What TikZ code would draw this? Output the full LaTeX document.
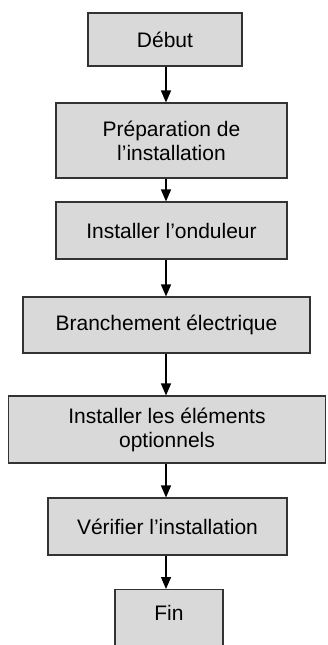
\documentclass[tikz,border=0pt]{standalone}
\usepackage{fontspec}
\setmainfont{Liberation Sans}
\usetikzlibrary{arrows.meta}
\begin{document}
\begin{tikzpicture}[x=1pt,y=-1pt,
  box/.style={draw=black!80,line width=1.1pt,fill=black!15,rectangle,inner sep=0pt,
    align=center,font=\fontsize{21}{24}\selectfont},
  arr/.style={line width=1.3pt,-{Triangle[length=12pt,width=10pt]}}]
\clip (0,0) rectangle (328,645);
\node[box,minimum width=154pt,minimum height=53pt] (a) at (165,39.5) {Début};
\node[box,minimum width=231pt,minimum height=75pt] (b) at (171.5,140.5) {Préparation de\\l’installation};
\node[box,minimum width=231pt,minimum height=57pt] (c) at (171.5,230.5) {Installer l’onduleur};
\node[box,minimum width=287pt,minimum height=56pt] (d) at (166.5,325) {Branchement électrique};
\node[box,minimum width=317pt,minimum height=67pt] (e) at (167,429.5) {Installer les éléments\\optionnels};
\node[box,minimum width=239pt,minimum height=57pt] (f) at (167.5,526.5) {Vérifier l’installation};
\node[box,minimum width=108pt,minimum height=66pt,anchor=north] (g) at (169,589) {};
\node[font=\fontsize{21}{24}\selectfont] (gt) at (169,613) {Fin};
\coordinate (ax) at (166,0);
\draw[arr] (a.south -| ax) -- (b.north -| ax);
\draw[arr] (b.south -| ax) -- (c.north -| ax);
\draw[arr] (c.south -| ax) -- (d.north -| ax);
\draw[arr] (d.south -| ax) -- (e.north -| ax);
\draw[arr] (e.south -| ax) -- (f.north -| ax);
\draw[arr] (f.south -| ax) -- (g.north -| ax);
\end{tikzpicture}
\end{document}
